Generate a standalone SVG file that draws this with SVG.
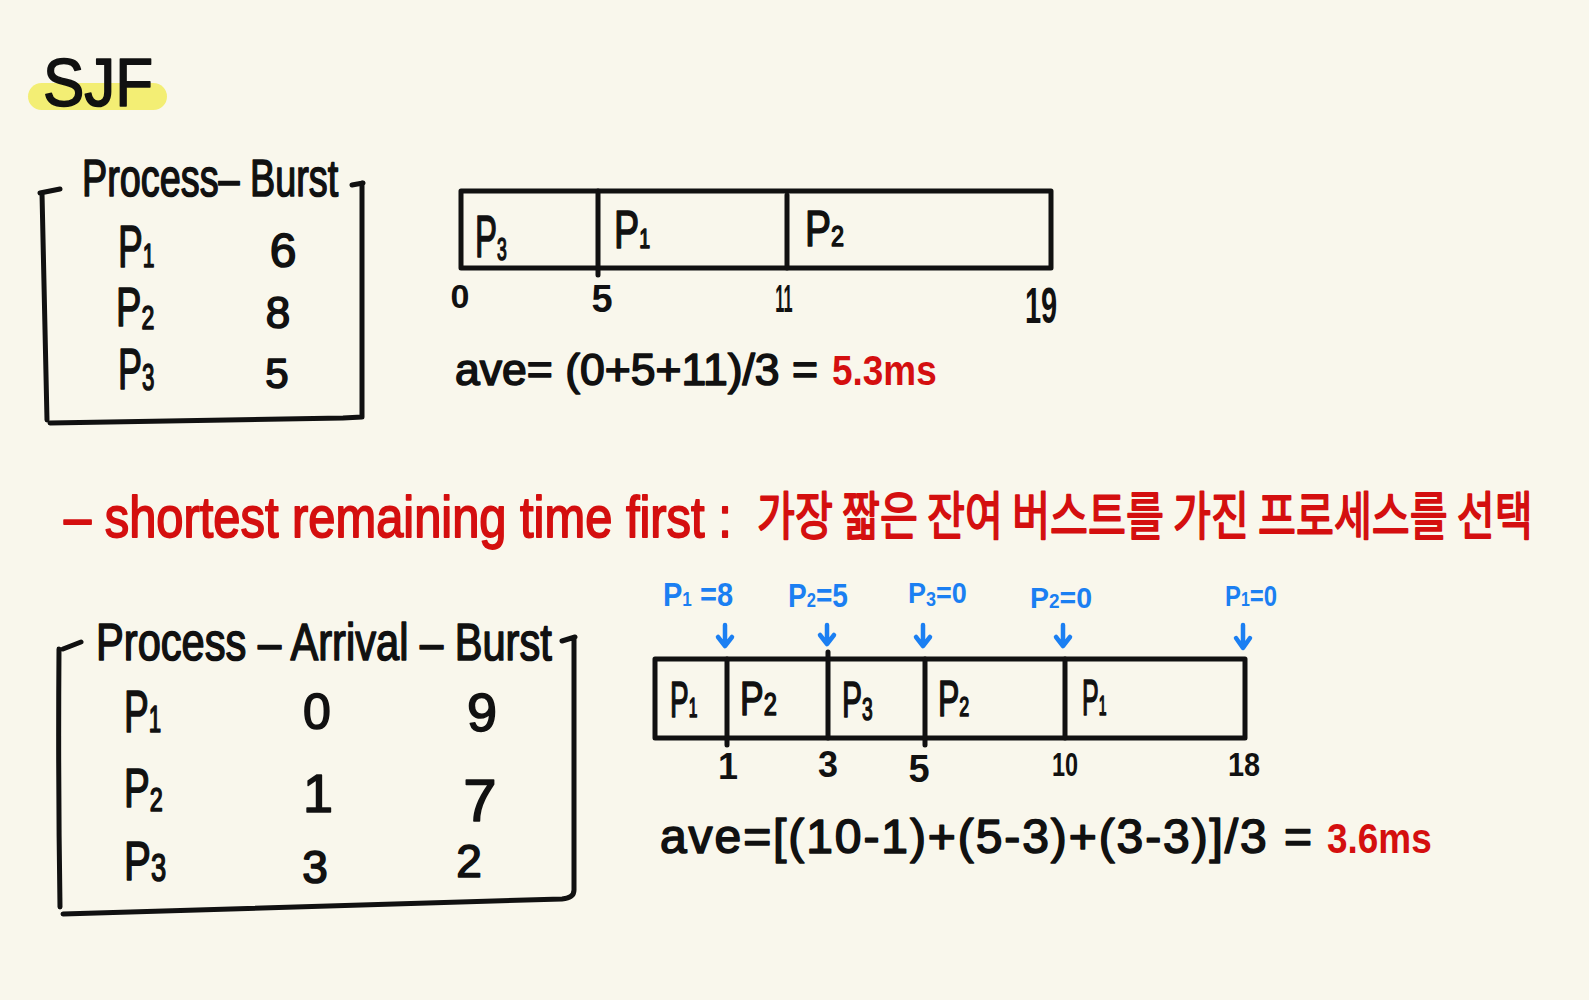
<svg xmlns="http://www.w3.org/2000/svg" width="1589" height="1000" viewBox="0 0 1589 1000">
<style>
.t{font-family:"Liberation Sans","Noto Sans CJK KR",sans-serif;fill:#111}
.th{stroke:#111;stroke-width:1.6;stroke-linejoin:round}
.bd{font-weight:bold}
.k{font-family:"Noto Sans CJK KR","Liberation Sans",sans-serif}
.r{fill:#d40f0f}
.rs{stroke:#d40f0f;stroke-width:1.8;stroke-linejoin:round}
.b{fill:#1b7ff2;font-weight:bold}
.m{text-anchor:middle}
.ln{fill:none;stroke:#111;stroke-width:5;stroke-linecap:round;stroke-linejoin:round}
.ar{fill:none;stroke:#1b7ff2;stroke-width:4.5;stroke-linecap:round;stroke-linejoin:round}
.hl{fill:#f3ee74}
</style>
<rect width="1589" height="1000" fill="#f9f7ec"/>

<g id="title">
<rect class="hl" x="28" y="83" width="139" height="27" rx="13.5"/>
<text class="t th" transform="translate(43,106) scale(0.91,1)" font-size="68" textLength="121" lengthAdjust="spacingAndGlyphs">SJF</text>
</g>

<g id="table1">
<path class="ln" d="M40,193 L60,189 M42,193 Q44,300 47,420 M50,423 L343,418 L362,417 M362,183 L362,417 M352,185 L363,183"/>
<text class="t th" transform="translate(82,196) scale(0.726,1)" font-size="52" textLength="353" lengthAdjust="spacingAndGlyphs">Process– Burst</text>
<text class="t th" transform="translate(118,267) scale(0.62,1)" font-size="60">P<tspan font-size="34">1</tspan></text>
<text class="t th" transform="translate(116,326) scale(0.68,1)" font-size="56">P<tspan font-size="34" dy="3">2</tspan></text>
<text class="t th" transform="translate(118,389) scale(0.62,1)" font-size="58">P<tspan font-size="36" dy="1">3</tspan></text>
<text class="t th m" x="283" y="267" font-size="48">6</text>
<text class="t th m" x="278" y="328" font-size="44">8</text>
<text class="t th m" x="277" y="388" font-size="42">5</text>
</g>

<g id="gantt1">
<rect class="ln" x="461" y="191" width="590" height="77"/>
<path class="ln" d="M598,191 L598,275 M787,195 L787,268"/>
<text class="t th" transform="translate(475,257) scale(0.55,1)" font-size="60">P<tspan font-size="32" dy="3">3</tspan></text>
<text class="t th" transform="translate(614,248) scale(0.7,1)" font-size="54">P<tspan font-size="28">1</tspan></text>
<text class="t th" transform="translate(805,246) scale(0.78,1)" font-size="50">P<tspan font-size="30">2</tspan></text>
<text class="t bd m" x="460" y="308" font-size="34">0</text>
<text class="t bd m" x="602" y="312" font-size="38">5</text>
<text class="t bd m" transform="translate(784,312) scale(0.43,1)" font-size="38">11</text>
<text class="t bd m" transform="translate(1041,323) scale(0.58,1)" font-size="50">19</text>
</g>

<g id="formula1">
<text class="t th" x="455" y="385" font-size="44" textLength="363" lengthAdjust="spacingAndGlyphs">ave= (0+5+11)/3 =</text>
<text class="t bd r" transform="translate(832,385) scale(0.88,1)" font-size="42" textLength="119" lengthAdjust="spacingAndGlyphs">5.3ms</text>
</g>

<g id="srtf-note">
<text class="t r rs" transform="translate(64,537) scale(0.842,1)" font-size="58" textLength="793" lengthAdjust="spacingAndGlyphs">– shortest remaining time first :</text>
<text class="k r rs" transform="translate(757,535) scale(0.64,1)" font-size="52" textLength="1212" lengthAdjust="spacingAndGlyphs">가장 짧은 잔여 버스트를 가진 프로세스를 선택</text>
</g>

<g id="table2">
<path class="ln" d="M63,649 L81,642 M59,649 Q58,780 60,907 M63,914 L562,899 Q574,898 574,890 M574,638 L574,890 M562,641 L575,637"/>
<text class="t th" transform="translate(96,660) scale(0.797,1)" font-size="52" textLength="572" lengthAdjust="spacingAndGlyphs">Process – Arrival – Burst</text>
<text class="t th" transform="translate(124,732) scale(0.62,1)" font-size="60">P<tspan font-size="36">1</tspan></text>
<text class="t th" transform="translate(124,807) scale(0.69,1)" font-size="56">P<tspan font-size="34" dy="4">2</tspan></text>
<text class="t th" transform="translate(124,880) scale(0.72,1)" font-size="56">P<tspan font-size="38" dy="1">3</tspan></text>
<text class="t th m" x="317" y="729" font-size="50">0</text>
<text class="t th m" x="482" y="731" font-size="54">9</text>
<text class="t th m" x="318" y="812" font-size="54">1</text>
<text class="t th m" x="480" y="821" font-size="60">7</text>
<text class="t th m" x="315" y="883" font-size="46">3</text>
<text class="t th m" x="469" y="877" font-size="46">2</text>
</g>

<g id="gantt2">
<rect class="ln" x="655" y="659" width="590" height="79"/>
<path class="ln" d="M727,659 L727,745 M828,652 L828,738 M925,659 L925,745 M1065,659 L1065,738"/>
<text class="t th" transform="translate(670,717) scale(0.56,1)" font-size="50">P<tspan font-size="28">1</tspan></text>
<text class="t th" transform="translate(740,715) scale(0.74,1)" font-size="48">P<tspan font-size="32">2</tspan></text>
<text class="t th" transform="translate(842,717) scale(0.6,1)" font-size="50">P<tspan font-size="32" dy="3">3</tspan></text>
<text class="t th" transform="translate(938,716) scale(0.64,1)" font-size="50">P<tspan font-size="28">2</tspan></text>
<text class="t th" transform="translate(1082,715) scale(0.5,1)" font-size="50">P<tspan font-size="28">1</tspan></text>
<text class="t bd m" x="728" y="779" font-size="36">1</text>
<text class="t bd m" x="828" y="777" font-size="36">3</text>
<text class="t bd m" x="919" y="782" font-size="38">5</text>
<text class="t bd m" transform="translate(1065,776) scale(0.69,1)" font-size="34">10</text>
<text class="t bd m" transform="translate(1244,776) scale(0.85,1)" font-size="34">18</text>
</g>

<g id="remaining-labels">
<text class="t b" transform="translate(663,606) scale(0.854,1)" font-size="34">P<tspan font-size="20">1</tspan> =8</text>
<text class="t b" transform="translate(788,607) scale(0.826,1)" font-size="34">P<tspan font-size="20">2</tspan>=5</text>
<text class="t b" transform="translate(908,603) scale(0.9,1)" font-size="30">P<tspan font-size="20" dy="3">3</tspan><tspan dy="-3">=0</tspan></text>
<text class="t b" transform="translate(1030,608) scale(0.95,1)" font-size="30">P<tspan font-size="20">2</tspan>=0</text>
<text class="t b" transform="translate(1225,606) scale(0.796,1)" font-size="30">P<tspan font-size="20">1</tspan>=0</text>
</g>

<g id="connectors">
<path class="ar" d="M725,625 L725,645 M718,637 L725,646 L732,637"/>
<path class="ar" d="M827,625 L827,643 M820,635 L827,644 L834,635"/>
<path class="ar" d="M923,625 L923,645 M916,637 L923,646 L930,637"/>
<path class="ar" d="M1063,625 L1063,645 M1056,637 L1063,646 L1070,637"/>
<path class="ar" d="M1243,625 L1243,647 M1236,638 L1243,648 L1250,638"/>
</g>

<g id="formula2">
<text class="t th" x="660" y="853" font-size="48" textLength="652" lengthAdjust="spacing">ave=[(10-1)+(5-3)+(3-3)]/3 =</text>
<text class="t bd r" transform="translate(1327,853) scale(0.88,1)" font-size="42" textLength="119" lengthAdjust="spacingAndGlyphs">3.6ms</text>
</g>
</svg>
